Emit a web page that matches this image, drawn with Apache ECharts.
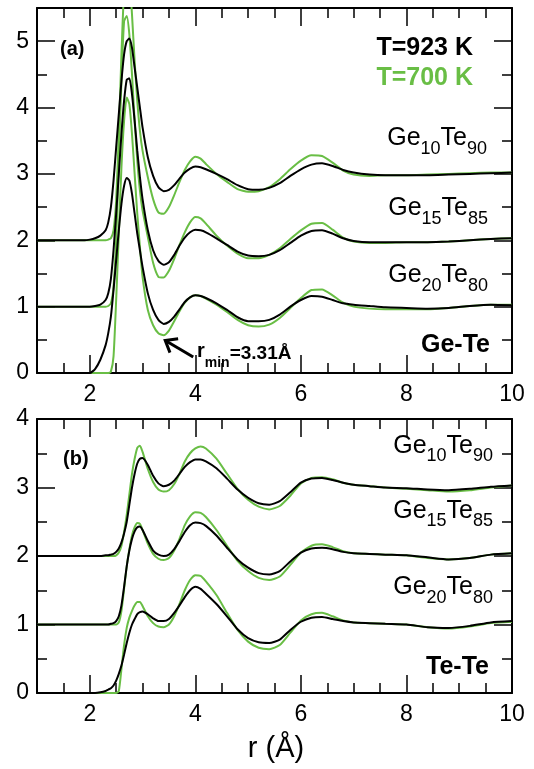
<!DOCTYPE html>
<html><head><meta charset="utf-8">
<script src="https://cdn.jsdelivr.net/npm/echarts@6/dist/echarts.min.js"></script>
<style>html,body{margin:0;padding:0;background:#fff}#c{width:534px;height:769px}</style>
</head><body><div id="c"></div>
<script>
// ---------------- data ----------------
const R = [1.0,1.8,1.9,2.0,2.1,2.2,2.3,2.35,2.4,2.45,
           2.5,2.55,2.6,2.65,2.7,2.75,2.8,2.85,2.9,2.95,
           3.0,3.1,3.2,3.3,3.4,3.5,3.6,3.7,3.8,3.9,
           4.0,4.1,4.2,4.4,4.6,4.8,5.0,5.2,5.4,5.6,
           5.8,6.0,6.2,6.4,6.6,6.8,7.0,7.3,7.6,8.0,
           8.4,8.8,9.2,9.6,10.0];
const alloys = ['Ge10Te90','Ge15Te85','Ge20Te80'];
const offsets = [2, 1, 0];
const temps = ['T=923 K','T=700 K'];
const xMajorTicks = [2,4,6,8,10];

// (a) Ge-Te partial g(r), unshifted
const geTe10_923 = [0,0,0,0.01,0.03,0.07,0.15,0.27,0.5,0.9,
  1.4,1.9,2.4,2.8,3.0,3.04,2.9,2.6,2.3,2.0,
  1.7,1.25,0.97,0.8,0.74,0.76,0.83,0.93,1.02,1.08,
  1.11,1.1,1.07,1.0,0.92,0.83,0.77,0.76,0.79,0.86,
  0.97,1.07,1.14,1.16,1.12,1.06,1.02,0.99,0.98,0.98,
  0.98,0.99,1.0,1.01,1.02];
const geTe10_700 = [0,0,0,0,0,0,0,0.01,0.03,0.15,
  0.6,1.6,2.8,3.8,4.25,4.0,3.4,2.7,2.1,1.65,
  1.35,0.95,0.62,0.42,0.4,0.5,0.68,0.88,1.06,1.19,
  1.26,1.23,1.15,1.0,0.88,0.77,0.73,0.74,0.8,0.92,
  1.07,1.2,1.28,1.27,1.17,1.05,0.99,0.97,0.98,0.98,
  0.99,1.0,1.01,1.02,1.02];
const geTe15_923 = [0,0,0,0,0.01,0.03,0.1,0.2,0.42,0.85,
  1.4,2.0,2.6,3.1,3.42,3.44,3.2,2.8,2.35,1.95,
  1.62,1.15,0.85,0.69,0.63,0.67,0.78,0.92,1.04,1.12,
  1.16,1.15,1.12,1.03,0.93,0.83,0.77,0.76,0.78,0.85,
  0.96,1.07,1.14,1.15,1.1,1.03,0.99,0.97,0.97,0.97,
  0.97,0.98,1.0,1.02,1.03];
const geTe15_700 = [0,0,0,0,0,0,0,0.01,0.05,0.3,
  1.0,2.2,3.4,4.3,4.38,4.1,3.5,2.8,2.2,1.75,
  1.45,1.05,0.66,0.45,0.44,0.54,0.72,0.93,1.12,1.27,
  1.35,1.33,1.25,1.07,0.92,0.8,0.73,0.73,0.78,0.88,
  1.02,1.15,1.25,1.26,1.16,1.04,0.98,0.96,0.96,0.97,
  0.97,0.98,1.0,1.02,1.03];
const geTe20_923 = [0,0,0,0.0,0.06,0.2,0.42,0.6,0.85,1.25,
  1.7,2.15,2.55,2.82,2.94,2.9,2.7,2.4,2.1,1.85,
  1.6,1.2,0.95,0.8,0.74,0.77,0.85,0.96,1.07,1.14,
  1.17,1.16,1.13,1.05,0.95,0.84,0.78,0.78,0.8,0.88,
  1.0,1.1,1.16,1.15,1.1,1.05,1.03,1.01,0.99,0.98,
  0.97,0.98,1.01,1.03,1.02];
const geTe20_700 = [0,0,0,0,0,0,0,0,0.02,0.25,
  1.1,2.1,3.1,3.8,4.15,4.05,3.6,3.0,2.4,1.9,
  1.45,0.95,0.72,0.6,0.57,0.64,0.78,0.93,1.06,1.14,
  1.17,1.16,1.12,1.03,0.92,0.8,0.72,0.7,0.73,0.83,
  0.98,1.13,1.25,1.26,1.17,1.06,1.0,0.97,0.96,0.96,
  0.96,0.98,1.01,1.03,1.03];

// (b) Te-Te partial g(r), unshifted
const teTe10_923 = [0,0,0,0,0,0,0.01,0.01,0.02,0.03,
  0.06,0.11,0.2,0.33,0.5,0.75,1.0,1.2,1.35,1.42,
  1.43,1.33,1.17,1.06,1.02,1.04,1.1,1.2,1.3,1.37,
  1.41,1.41,1.38,1.28,1.13,0.97,0.85,0.77,0.75,0.8,
  0.93,1.07,1.13,1.14,1.11,1.07,1.04,1.02,1.0,0.99,
  0.97,0.96,0.98,1.01,1.03];
const teTe10_700 = [0,0,0,0,0,0,0,0,0,0,
  0.01,0.05,0.15,0.35,0.6,0.9,1.2,1.42,1.58,1.61,
  1.52,1.27,1.08,0.97,0.94,0.96,1.05,1.2,1.38,1.5,
  1.57,1.6,1.57,1.42,1.2,0.98,0.82,0.72,0.68,0.73,
  0.88,1.06,1.14,1.15,1.12,1.07,1.04,1.02,1.0,0.98,
  0.96,0.94,0.96,1.0,1.03];
const teTe15_923 = [0,0,0,0,0,0,0,0,0.01,0.02,
  0.05,0.12,0.28,0.55,0.85,1.08,1.25,1.36,1.42,1.43,
  1.38,1.22,1.08,1.02,1.0,1.02,1.1,1.22,1.35,1.45,
  1.49,1.48,1.44,1.3,1.12,0.95,0.83,0.75,0.73,0.78,
  0.92,1.05,1.11,1.12,1.1,1.06,1.04,1.03,1.02,1.01,
  0.98,0.95,0.97,1.02,1.04];
const teTe15_700 = [0,0,0,0,0,0,0,0,0,0,
  0,0.03,0.2,0.52,0.85,1.1,1.3,1.42,1.48,1.47,
  1.38,1.18,1.03,0.96,0.94,0.97,1.08,1.25,1.45,1.58,
  1.64,1.63,1.57,1.38,1.15,0.93,0.78,0.68,0.65,0.7,
  0.87,1.05,1.15,1.17,1.13,1.07,1.04,1.03,1.02,1.01,
  0.97,0.95,0.97,1.02,1.04];
const teTe20_923 = [0,0,0,0,0,0.01,0.03,0.05,0.07,0.11,
  0.18,0.28,0.4,0.56,0.73,0.88,1.0,1.08,1.15,1.18,
  1.19,1.15,1.09,1.05,1.05,1.08,1.17,1.28,1.4,1.5,
  1.55,1.52,1.45,1.3,1.12,0.93,0.8,0.74,0.73,0.78,
  0.92,1.04,1.1,1.11,1.08,1.05,1.03,1.02,1.01,1.0,
  0.96,0.95,0.98,1.03,1.05];
const teTe20_700 = [0,0,0,0,0,0,0,0,0,0,
  0,0.03,0.35,0.7,0.95,1.1,1.2,1.28,1.33,1.33,
  1.27,1.12,1.02,0.97,0.96,1.0,1.12,1.3,1.5,1.65,
  1.72,1.71,1.63,1.43,1.17,0.92,0.75,0.66,0.64,0.7,
  0.88,1.06,1.15,1.17,1.12,1.06,1.03,1.02,1.01,1.0,
  0.96,0.94,0.97,1.02,1.04];

// ---------------- chart ----------------
const FONT = '"Liberation Sans", Arial, Helvetica, sans-serif';
const BLACK = '#000000', GREEN = '#69be45';
const panels = [
  {sets: [[geTe10_923, geTe10_700],[geTe15_923, geTe15_700],[geTe20_923, geTe20_700]], ymax: 5.5},
  {sets: [[teTe10_923, teTe10_700],[teTe15_923, teTe15_700],[teTe20_923, teTe20_700]], ymax: 4}
];
const grids = [
  {left: 37, top: 8, width: 475, height: 365},
  {left: 37, top: 419, width: 475, height: 274}
];
const frame = {show: true, onZero: false, lineStyle: {color: BLACK, width: 2}};
const tickStyle = {color: BLACK, width: 1.5};
const xAxes = [], yAxes = [];
grids.forEach((g, gi) => {
  const bx = {type: 'value', gridIndex: gi, min: 1, max: 10, splitLine: {show: false}};
  xAxes.push(
    Object.assign({}, bx, {position: 'bottom', interval: 1, axisLine: frame,
      axisTick: {show: true, inside: true, length: 18, customValues: xMajorTicks, lineStyle: tickStyle},
      axisLabel: {show: true, customValues: xMajorTicks, fontSize: 23, color: BLACK, fontFamily: FONT, margin: 10}}),
    Object.assign({}, bx, {position: 'bottom', interval: 0.5, axisLine: {show: false, onZero: false},
      axisTick: {show: true, inside: true, length: 10, lineStyle: tickStyle}, axisLabel: {show: false}}),
    Object.assign({}, bx, {position: 'top', interval: 1, axisLine: frame,
      axisTick: {show: true, inside: true, length: 18, customValues: xMajorTicks, lineStyle: tickStyle},
      axisLabel: {show: false}}),
    Object.assign({}, bx, {position: 'top', interval: 0.5, axisLine: {show: false, onZero: false},
      axisTick: {show: true, inside: true, length: 10, lineStyle: tickStyle}, axisLabel: {show: false}})
  );
  const by = {type: 'value', gridIndex: gi, min: 0, max: panels[gi].ymax, splitLine: {show: false}};
  yAxes.push(
    Object.assign({}, by, {position: 'left', interval: 1, axisLine: frame,
      axisTick: {show: true, inside: true, length: 18, lineStyle: tickStyle},
      axisLabel: {show: true, fontSize: 23, color: BLACK, fontFamily: FONT, margin: 8,
        formatter: v => Number.isInteger(v) ? String(v) : ''}}),
    Object.assign({}, by, {position: 'left', interval: 0.5, axisLine: {show: false, onZero: false},
      axisTick: {show: true, inside: true, length: 10, lineStyle: tickStyle}, axisLabel: {show: false}}),
    Object.assign({}, by, {position: 'right', interval: 1, axisLine: frame,
      axisTick: {show: true, inside: true, length: 18, lineStyle: tickStyle}, axisLabel: {show: false}}),
    Object.assign({}, by, {position: 'right', interval: 0.5, axisLine: {show: false, onZero: false},
      axisTick: {show: true, inside: true, length: 10, lineStyle: tickStyle}, axisLabel: {show: false}})
  );
});

const series = [];
panels.forEach((p, gi) => {
  p.sets.forEach((pair, i) => {
    [1, 0].forEach(t => {
      const vals = pair[t];
      series.push({
        type: 'line', name: alloys[i] + ' ' + temps[t],
        xAxisIndex: gi * 4, yAxisIndex: gi * 4,
        data: R.map((r, k) => [r, +(vals[k] + offsets[i]).toFixed(3)]),
        showSymbol: false, smooth: 0.2, clip: true, silent: true,
        lineStyle: {color: t ? GREEN : BLACK, width: 2},
        z: t ? 3 : 4
      });
    });
  });
});

function formula(txt, x, top) {
  return {type: 'text', x: x, y: top, z: 20, style: {
    text: txt, align: 'right', verticalAlign: 'top',
    rich: {
      m: {fontSize: 25, fontFamily: FONT, fill: BLACK, verticalAlign: 'top'},
      s: {fontSize: 18, fontFamily: FONT, fill: BLACK, verticalAlign: 'top', padding: [14, 0, 0, 0]}
    }}};
}
function plain(txt, x, y, size, weight, color, align) {
  return {type: 'text', x: x, y: y, z: 20, style: {
    text: txt, align: align || 'right', verticalAlign: 'middle',
    font: weight + ' ' + size + 'px ' + FONT, fill: color}};
}
const sub = n => '{m|Ge}{s|' + n.slice(2,4) + '}{m|Te}{s|' + n.slice(6,8) + '}';

const chart = echarts.init(document.getElementById('c'), null, {renderer: 'canvas'});
const option = {
  animation: false,
  backgroundColor: '#fff',
  grid: grids.map(g => Object.assign({outerBoundsMode: 'none', containLabel: false}, g)),
  xAxis: xAxes, yAxis: yAxes, series: series
};
chart.setOption(option);

const tip = chart.convertToPixel({xAxisIndex: 0, yAxisIndex: 0}, [3.43, 0.49]);
const tail = chart.convertToPixel({xAxisIndex: 0, yAxisIndex: 0}, [3.96, 0.24]);
const dx = tail[0] - tip[0], dy = tail[1] - tip[1], L = Math.hypot(dx, dy);
const ux = dx / L, uy = dy / L, ang = 38 * Math.PI / 180, al = 13;
const arm = s => [tip[0] + al * (ux * Math.cos(s * ang) - uy * Math.sin(s * ang)),
                  tip[1] + al * (ux * Math.sin(s * ang) + uy * Math.cos(s * ang))];

const graphic = [
  plain('(a)', 60, 49, 20, 'bold', BLACK, 'left'),
  plain('(b)', 63, 459, 20, 'bold', BLACK, 'left'),
  plain(temps[0], 473, 48, 25, 'bold', BLACK),
  plain(temps[1], 473, 78, 25, 'bold', GREEN),
  formula(sub(alloys[0]), 487, 125.7),
  formula(sub(alloys[1]), 488, 196),
  formula(sub(alloys[2]), 488, 263),
  plain('Ge-Te', 490, 345, 25, 'bold', BLACK),
  formula(sub(alloys[0]), 493, 433.5),
  formula(sub(alloys[1]), 493, 498.5),
  formula(sub(alloys[2]), 493, 575),
  plain('Te-Te', 489, 667, 25, 'bold', BLACK),
  plain('r (Å)', 276, 749, 29, 'normal', BLACK, 'center'),
  {type: 'text', x: 197, y: 341.8, z: 20, style: {
    text: '{r|r}{s|min}{v|=3.31Å}', align: 'left', verticalAlign: 'top',
    rich: {
      r: {fontSize: 20, fontWeight: 'bold', fontFamily: FONT, fill: BLACK, verticalAlign: 'top'},
      s: {fontSize: 14, fontWeight: 'bold', fontFamily: FONT, fill: BLACK, verticalAlign: 'top', padding: [14, 0, 0, 0]},
      v: {fontSize: 19, fontWeight: 'bold', fontFamily: FONT, fill: BLACK, verticalAlign: 'top', padding: [2, 0, 0, 0]}
    }}},
  {type: 'line', z: 20, shape: {x1: tip[0] + ux, y1: tip[1] + uy, x2: tail[0], y2: tail[1]},
    style: {stroke: BLACK, lineWidth: 3}},
  {type: 'polyline', z: 20, shape: {points: [arm(1), tip, arm(-1)]},
    style: {stroke: BLACK, lineWidth: 3, fill: null, lineJoin: 'miter'}}
];
chart.setOption({graphic: graphic});
</script></body></html>
